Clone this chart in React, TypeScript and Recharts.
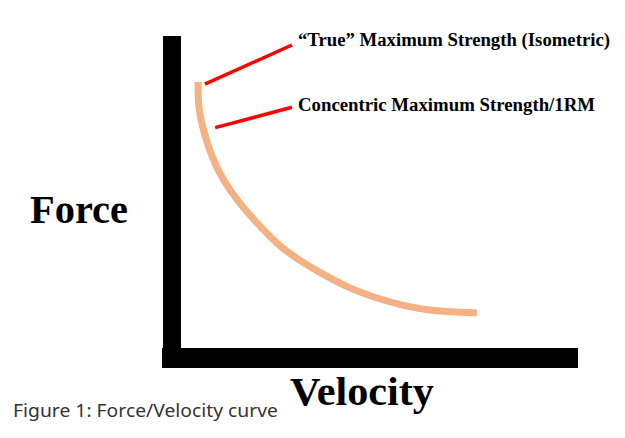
import React from 'react';
import { LineChart, Line, XAxis, YAxis, ReferenceLine, Customized } from 'recharts';

// Force-velocity curve (velocity 0-100, force 0-100)
const velocity = [6.6, 6.8, 8.1, 10.1, 12.9, 16.7, 21.0, 26.5, 31.8, 37.6, 44.4, 51.0, 59.3, 67.7, 77.0];
const force = [88.2, 80.2, 72.2, 64.5, 57.2, 50.2, 43.8, 36.7, 31.6, 27.2, 22.7, 19.5, 16.6, 15.0, 14.4];

// pointer lines (x1, y1) -> (x2, y2)
const pointerTrue = [{ x: 8.3, y: 87.5 }, { x: 30.3, y: 100 }];
const pointerConcentric = [{ x: 10.9, y: 73.6 }, { x: 30.3, y: 80.1 }];

const labelTrue = '\u201CTrue\u201D Maximum Strength (Isometric)';
const labelConcentric = 'Concentric Maximum Strength/1RM';
const yLabel = 'Force';
const xLabel = 'Velocity';
const caption = 'Figure 1: Force/Velocity curve';

const data = velocity.map((v, i) => ({ v, f: force[i] }));

const serif = '"Liberation Serif", "Times New Roman", serif';

const Texts = () => (
  <g>
    <text x={298} y={46} fontFamily={serif} fontWeight="bold" fontSize={18.7} fill="#000"
      textLength={312} lengthAdjust="spacingAndGlyphs">{labelTrue}</text>
    <text x={298} y={111} fontFamily={serif} fontWeight="bold" fontSize={18.7} fill="#000"
      textLength={297} lengthAdjust="spacingAndGlyphs">{labelConcentric}</text>
    <text x={30} y={223} fontFamily={serif} fontWeight="bold" fontSize={40} fill="#000"
      textLength={98} lengthAdjust="spacingAndGlyphs">{yLabel}</text>
    <text x={290} y={405} fontFamily={serif} fontWeight="bold" fontSize={41} fill="#000"
      textLength={144} lengthAdjust="spacingAndGlyphs">{xLabel}</text>
    <text x={13} y={417} fontFamily='"Noto Sans", sans-serif' fontSize={18.5} fill="#333"
      textLength={265} lengthAdjust="spacingAndGlyphs">{caption}</text>
  </g>
);

export default function App() {
  return (
    <div style={{ position: 'absolute', left: 0, top: 0, width: 625, height: 438, background: '#fff' }}>
      <LineChart width={625} height={438} data={data}
        margin={{ top: 45, right: 57, bottom: 70, left: 162 }}>
        <XAxis type="number" dataKey="v" domain={[0, 100]} tick={false} height={10}
          axisLine={{ stroke: '#000', strokeWidth: 20, strokeLinecap: 'square' }} tickLine={false} />
        <YAxis type="number" domain={[0, 100]} tick={false} width={10}
          axisLine={{ stroke: '#000', strokeWidth: 18, strokeLinecap: 'square' }} tickLine={false} />
        <Line type="natural" dataKey="f" stroke="#F4B183" strokeWidth={7} dot={false}
          isAnimationActive={false} strokeLinecap="butt" />
        <ReferenceLine segment={pointerTrue} stroke="#FF0000" strokeWidth={3.5} ifOverflow="visible" />
        <ReferenceLine segment={pointerConcentric} stroke="#FF0000" strokeWidth={3.5} ifOverflow="visible" />
        <Customized component={Texts} />
      </LineChart>
    </div>
  );
}
